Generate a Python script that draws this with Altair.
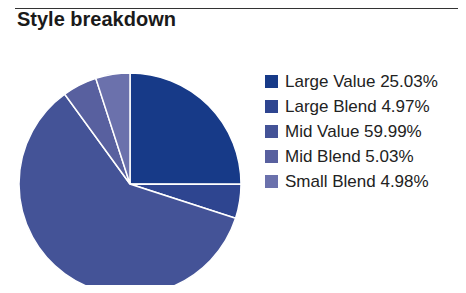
import altair as alt
import pandas as pd

categories = ["Large Value", "Large Blend", "Mid Value", "Mid Blend", "Small Blend"]
values = [25.03, 4.97, 59.99, 5.03, 4.98]
colors = ["#173a88", "#2e4590", "#445397", "#58609f", "#6b71ac"]
title_text = "Style breakdown"

labels = [f"{c} {v:.2f}%" for c, v in zip(categories, values)]
df = pd.DataFrame({"label": labels, "value": values, "order": list(range(len(values)))})

W, H = 450, 277

pie = alt.Chart(df).mark_arc(outerRadius=111, stroke="white", strokeWidth=1.5).encode(
    theta=alt.Theta("value:Q", stack=True),
    order=alt.Order("order:Q"),
    color=alt.Color(
        "label:N",
        scale=alt.Scale(domain=labels, range=colors),
        sort=labels,
        legend=alt.Legend(
            title=None,
            orient="none",
            legendX=255,
            legendY=65,
            symbolType="square",
            symbolSize=169,
            symbolStrokeWidth=0,
            labelFontSize=17,
            labelFont="Liberation Sans",
            labelColor="#222222",
            labelOffset=5,
            rowPadding=7,
            padding=0,
        ),
    ),
    x=alt.value(122),
    y=alt.value(176),
)

title = alt.Chart(pd.DataFrame({"t": [title_text]})).mark_text(
    align="left", baseline="alphabetic", fontSize=20, fontWeight="bold",
    font="Liberation Sans", color="#1a1a1a"
).encode(text="t:N", x=alt.value(9), y=alt.value(18))

rule = alt.Chart(pd.DataFrame({"a": [0]})).mark_rule(color="#333333", strokeWidth=2).encode(
    x=alt.value(7), x2=alt.value(W), y=alt.value(0)
)

chart = alt.layer(pie, title, rule).properties(
    width=W, height=H, autosize=alt.AutoSizeParams(type="none"), padding=0
).configure_view(stroke=None)

chart.save("out.html", embed_options={"renderer": "svg", "actions": False})
